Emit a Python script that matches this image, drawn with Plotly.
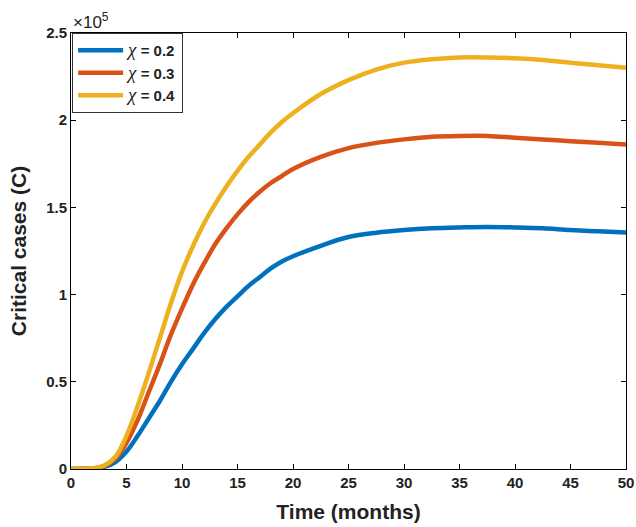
import plotly.graph_objects as go

# time (months)
time = [0, 1, 2, 3, 4, 5, 6, 7, 8, 9, 10, 11, 12, 13, 14, 15, 16, 17, 18, 19, 20,
        22.5, 25, 27.5, 30, 32.5, 35, 37.5, 40, 42.5, 45, 47.5, 50]
# critical cases, in units of 1e5
chi_02 = [0, 0.001, 0.002, 0.012, 0.04, 0.10, 0.19, 0.29, 0.39, 0.50, 0.60, 0.69,
          0.78, 0.86, 0.93, 0.99, 1.05, 1.10, 1.15, 1.19, 1.22,
          1.28, 1.33, 1.355, 1.37, 1.38, 1.385, 1.388, 1.385, 1.38, 1.37, 1.363, 1.356]
chi_03 = [0, 0.001, 0.003, 0.018, 0.06, 0.15, 0.28, 0.44, 0.60, 0.77, 0.92, 1.06,
          1.18, 1.29, 1.38, 1.46, 1.53, 1.59, 1.64, 1.68, 1.72,
          1.79, 1.84, 1.87, 1.89, 1.905, 1.91, 1.91, 1.90, 1.89, 1.88, 1.87, 1.86]
chi_04 = [0, 0.001, 0.004, 0.02, 0.07, 0.19, 0.36, 0.55, 0.75, 0.95, 1.13, 1.28,
          1.41, 1.52, 1.62, 1.71, 1.79, 1.86, 1.93, 1.99, 2.04,
          2.15, 2.23, 2.29, 2.33, 2.35, 2.36, 2.36, 2.355, 2.345, 2.33, 2.315, 2.30]
chi_values = ["0.2", "0.3", "0.4"]
colors = ["#0072BD", "#D95319", "#EDB120"]
x_ticks = list(range(0, 51, 5))
y_ticks = [0, 0.5, 1, 1.5, 2, 2.5]
y_tick_labels = ["0", "0.5", "1", "1.5", "2", "2.5"]

FONT = "Liberation Sans, Arial"
fig = go.Figure()
for v, ys, c in zip(chi_values, [chi_02, chi_03, chi_04], colors):
    label = ("<span style='font-family:Liberation Serif, Times New Roman; font-size:19px'>"
             "<i>χ</i></span><b> = %s</b>" % v)
    fig.add_trace(go.Scatter(x=time, y=ys, mode="lines", name=label,
                             line=dict(color=c, width=4.5, shape="spline", smoothing=1.0)))

axis_common = dict(showgrid=False, zeroline=False, showline=True, linecolor="black",
                   linewidth=1, mirror="ticks", ticks="inside", ticklen=5,
                   tickcolor="black", automargin=False,
                   tickfont=dict(family=FONT, size=15, color="#222"))

fig.update_layout(
    width=636, height=527,
    margin=dict(l=71, r=10, t=33, b=58),
    plot_bgcolor="white", paper_bgcolor="white",
    xaxis=dict(range=[0, 50], tickvals=x_ticks,
               ticktext=["<b>%d</b>" % v for v in x_ticks],
               title=dict(text="<b>Time (months)</b>", standoff=14,
                          font=dict(family=FONT, size=21, color="#222")),
               **axis_common),
    yaxis=dict(range=[0, 2.5], tickvals=y_ticks,
               ticktext=["<b>%s</b>" % s for s in y_tick_labels],
               title=dict(text="<b>Critical cases (C)</b>", standoff=13,
                          font=dict(family=FONT, size=21, color="#222")),
               **axis_common),
    legend=dict(x=0.002, y=1.0, xanchor="left", yanchor="top",
                bgcolor="white", bordercolor="#333", borderwidth=1,
                font=dict(family=FONT, size=15, color="#222"),
                tracegroupgap=0, itemwidth=45),
    showlegend=True,
)

fig.add_annotation(x=0, y=1, xref="paper", yref="paper", xanchor="left", yanchor="bottom",
                   text="×10<sup>5</sup>", showarrow=False, yshift=-1,
                   font=dict(family=FONT, size=17, color="#222"))

fig.write_html("out.html", config={"displayModeBar": False},
               post_script="document.body.style.margin='0';")
